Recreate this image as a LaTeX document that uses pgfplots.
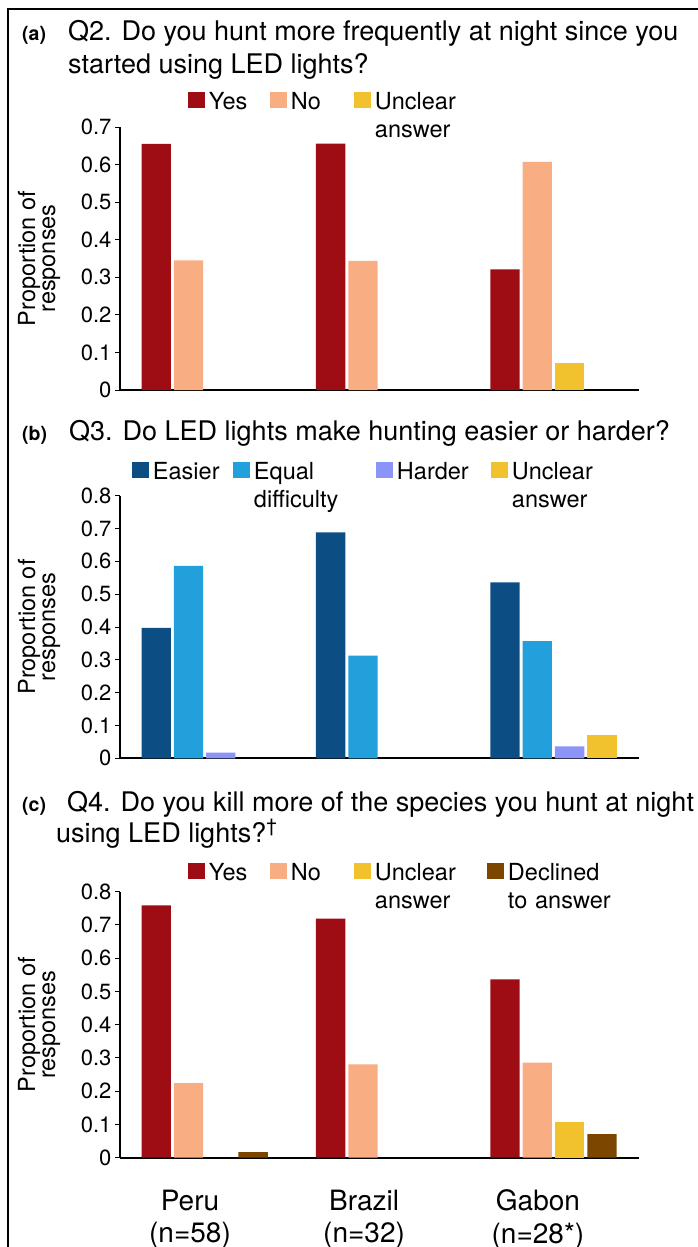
\documentclass[border=0pt]{standalone}
\usepackage{fontspec}
\setmainfont{TeX Gyre Heros}
\usepackage{pgfplots}
\pgfplotsset{compat=1.18}

\definecolor{cYes}{RGB}{158,12,20}
\definecolor{cNo}{RGB}{249,173,130}
\definecolor{cUnc}{RGB}{242,193,46}
\definecolor{cDec}{RGB}{124,70,0}
\definecolor{cEas}{RGB}{12,78,132}
\definecolor{cEqu}{RGB}{33,160,220}
\definecolor{cHar}{RGB}{140,148,248}

\newcommand\titlefont{\fontsize{27}{33}\selectfont}
\newcommand\legfont{\fontsize{23.5}{28}\selectfont}
\newcommand\tickfont{\fontsize{22}{25}\selectfont}
\newcommand\ylabfont{\fontsize{23.5}{20}\selectfont}
\newcommand\xlabfont{\fontsize{28}{32.5}\selectfont}
\newcommand\letterfont{\fontsize{19.5}{22}\selectfont\bfseries}

\pgfplotsset{
  panel/.style={
    scale only axis, width=519pt,
    xmin=-0.4854, xmax=2.4905, ymin=0,
    axis x line=bottom, axis y line=left,
    axis line style={-},
    x axis line style={line width=1.8pt},
    y axis line style={line width=1.1pt},
    tick align=outside, major tick length=5pt,
    ytick style={line width=1pt, black},
    yticklabel style={font=\tickfont},
    /pgf/number format/assume math mode=true,
    /pgf/number format/fixed, /pgf/number format/precision=1,
    ylabel={Proportion of\\responses},
    ylabel style={align=center, font=\ylabfont, at={(axis description cs:-0.156,0.5)}, anchor=center},
    legend style={draw=none, fill=none, anchor=north west, inner sep=0pt, outer sep=0pt,
      font=\legfont, column sep=0pt, cells={anchor=north west},
      nodes={inner sep=0pt, text depth=0pt},
      /tikz/every odd column/.append style={column sep=4pt}},
  },
  bar/.style={ybar, bar width=29.3pt, draw=none,
    legend image code/.code={\fill[##1] (0pt,0pt) rectangle (17pt,-16pt);}},
}

\begin{document}
\begin{tikzpicture}
% frame
\draw[line width=1.4pt] (8pt,-1260pt) -- (8pt,-9pt) -- (710pt,-9pt);

% titles
\node[anchor=base west, inner sep=0pt, font=\letterfont] at (22pt,-40.5pt) {(a)};
\node[anchor=base west, inner sep=0pt, font=\titlefont] at (68pt,-40.5pt) {Q2. Do you hunt more frequently at night since you};
\node[anchor=base west, inner sep=0pt, font=\titlefont] at (68pt,-74pt) {started using LED lights?};
\node[anchor=base west, inner sep=0pt, font=\letterfont] at (22pt,-440pt) {(b)};
\node[anchor=base west, inner sep=0pt, font=\titlefont] at (69pt,-440pt) {Q3. Do LED lights make hunting easier or harder?};
\node[anchor=base west, inner sep=0pt, font=\letterfont] at (22pt,-811pt) {(c)};
\node[anchor=base west, inner sep=0pt, font=\titlefont] at (67pt,-811pt) {Q4. Do you kill more of the species you hunt at night};
\node[anchor=base west, inner sep=0pt, font=\titlefont] at (56pt,-842pt) {using LED lights?\textsuperscript{\textdagger}};

% (a)
\begin{axis}[panel, at={(120pt,-390pt)}, anchor=south west, height=263pt,
  ymax=0.7, ytick={0,0.1,0.2,0.3,0.4,0.5,0.6,0.7}, xtick=\empty,
  legend columns=3, legend style={at={(axis description cs:0.1310,1.1331)}}]
\addplot[bar, fill=cYes, bar shift=-48.45pt] coordinates {(0,0.655) (1,0.656) (2,0.321)};
\addlegendentry[text width=61pt]{Yes}
\addplot[bar, fill=cNo, bar shift=-16.15pt] coordinates {(0,0.345) (1,0.344) (2,0.607)};
\addlegendentry[text width=63pt]{No}
\addplot[bar, fill=cUnc, bar shift=16.15pt] coordinates {(2,0.071)};
\addlegendentry[text width=90pt, align=left]{Unclear\\answer}
\end{axis}

% (b)
\begin{axis}[panel, at={(120pt,-758.3pt)}, anchor=south west, height=262.6pt,
  ymax=0.8, ytick={0,0.1,0.2,0.3,0.4,0.5,0.6,0.7,0.8}, xtick=\empty,
  legend columns=4, legend style={at={(axis description cs:0.0231,1.1283)}}]
\addplot[bar, fill=cEas, bar shift=-48.45pt] coordinates {(0,0.397) (1,0.688) (2,0.536)};
\addlegendentry[text width=80pt]{Easier}
\addplot[bar, fill=cEqu, bar shift=-16.15pt] coordinates {(0,0.586) (1,0.313) (2,0.357)};
\addlegendentry[text width=122pt, align=left]{Equal\\difficulty}
\addplot[bar, fill=cHar, bar shift=16.15pt] coordinates {(0,0.017) (2,0.036)};
\addlegendentry[text width=94pt]{Harder}
\addplot[bar, fill=cUnc, bar shift=48.45pt] coordinates {(2,0.071)};
\addlegendentry[text width=90pt, align=left]{Unclear\\answer}
\end{axis}

% (c)
\begin{axis}[panel, at={(120pt,-1157.7pt)}, anchor=south west, height=266pt,
  ymax=0.8, ytick={0,0.1,0.2,0.3,0.4,0.5,0.6,0.7,0.8},
  xtick={-0.084,0.914,1.911},
  xticklabels={{Peru\\(n=58)},{Brazil\\(n=32)},{Gabon\\(n=28*)}},
  xticklabel style={align=center, font=\xlabfont, inner sep=0pt, anchor=north, yshift=-27pt},
  x tick style={draw=none},
  legend columns=4, legend style={at={(axis description cs:0.1310,1.1079)}}]
\addplot[bar, fill=cYes, bar shift=-48.45pt] coordinates {(0,0.759) (1,0.719) (2,0.536)};
\addlegendentry[text width=61pt]{Yes}
\addplot[bar, fill=cNo, bar shift=-16.15pt] coordinates {(0,0.224) (1,0.281) (2,0.286)};
\addlegendentry[text width=63pt]{No}
\addplot[bar, fill=cUnc, bar shift=16.15pt] coordinates {(2,0.107)};
\addlegendentry[text width=112pt, align=left]{Unclear\\answer}
\addplot[bar, fill=cDec, bar shift=48.45pt] coordinates {(0,0.017) (2,0.071)};
\addlegendentry[text width=110pt, align=left]{Declined\\to answer}
\end{axis}

\pgfresetboundingbox
\useasboundingbox (0pt,0pt) rectangle (697pt,-1247pt);
\end{tikzpicture}
\end{document}
